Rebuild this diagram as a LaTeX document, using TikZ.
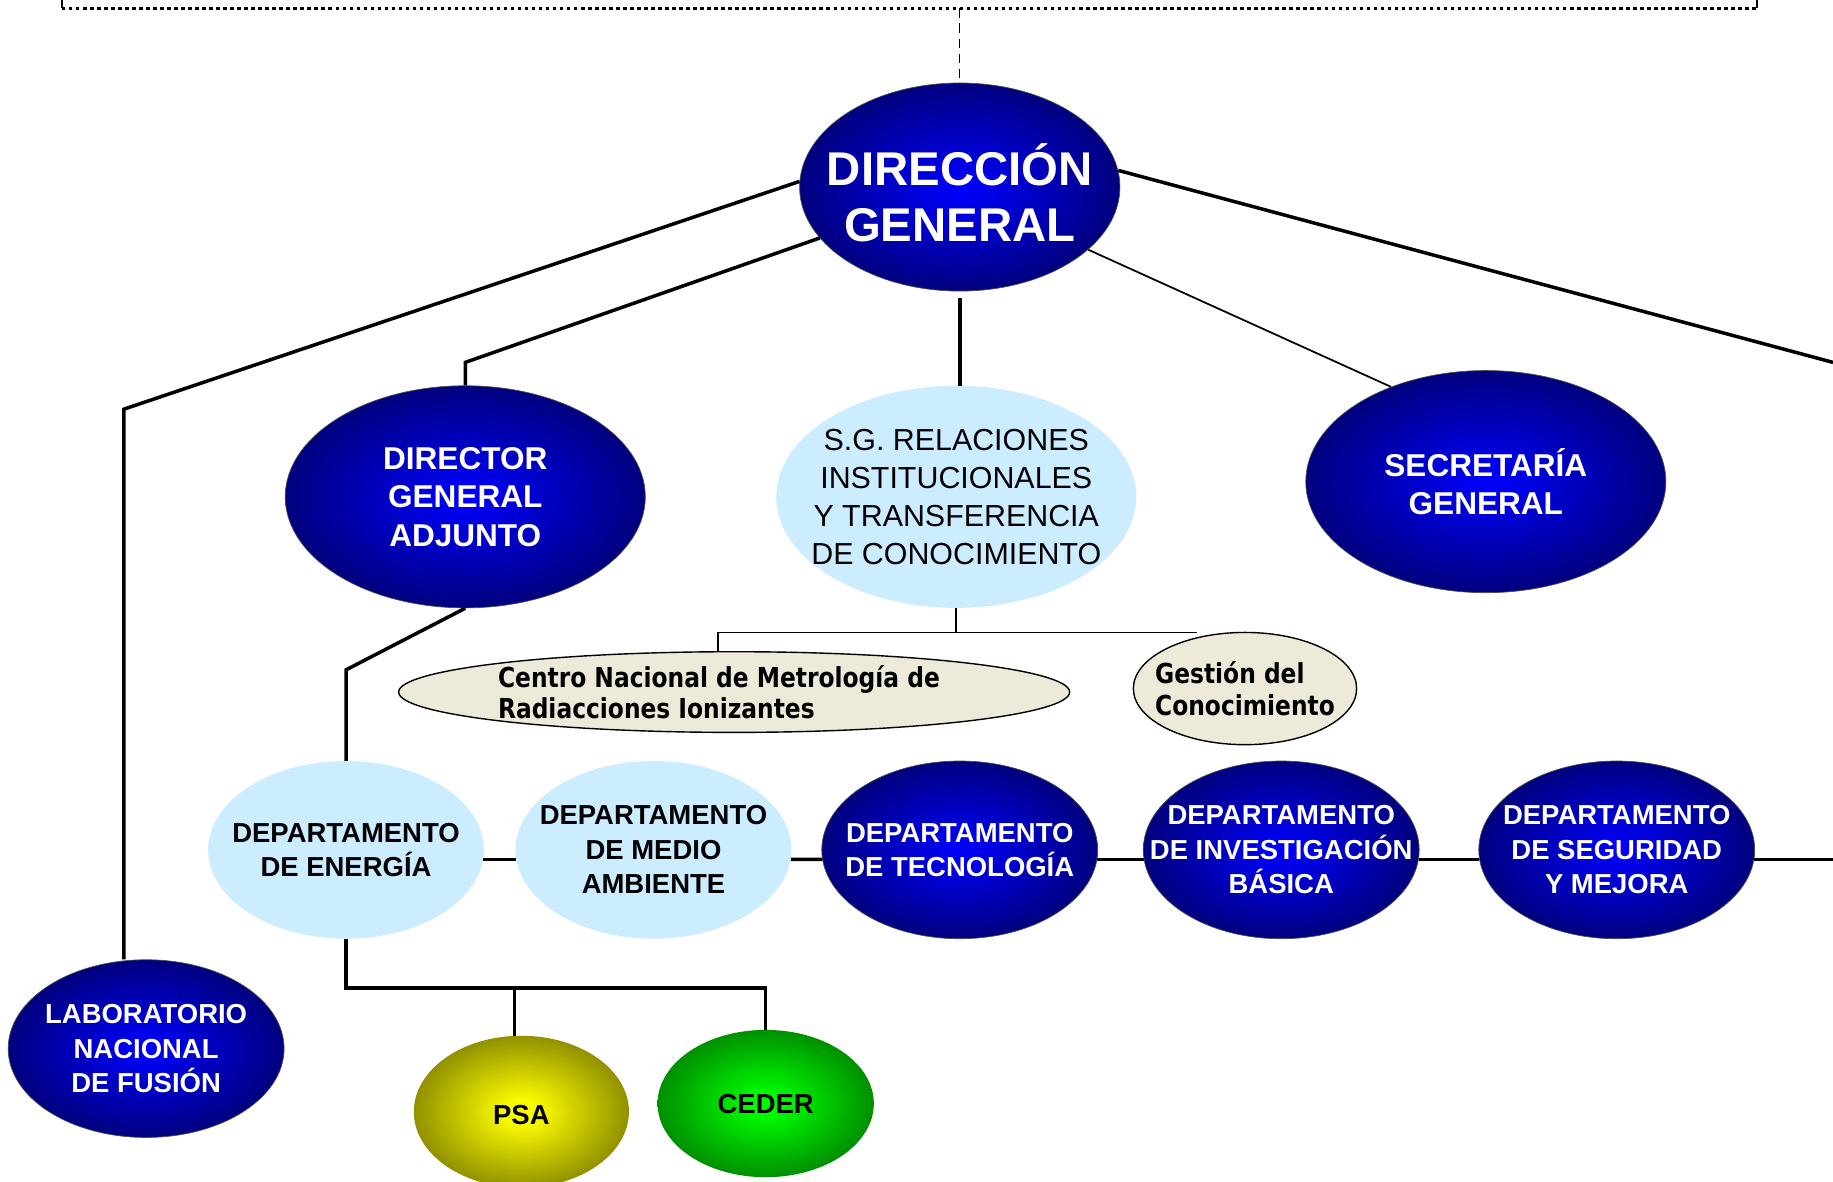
\documentclass[tikz,border=0pt]{standalone}
\usepackage{fontspec}
\setmainfont{Liberation Sans}
\newfontfamily\tahomalike{DejaVu Sans}[FakeStretch=0.85]
\usetikzlibrary{shapes.geometric}
\definecolor{OrgNavy}{RGB}{0,0,70}
\definecolor{OrgBlue}{RGB}{0,0,255}
\definecolor{OrgSky}{RGB}{204,236,255}
\definecolor{OrgBeige}{RGB}{238,234,218}
\definecolor{OrgOlive}{RGB}{90,90,0}
\definecolor{OrgYellow}{RGB}{250,250,0}
\definecolor{OrgForest}{RGB}{0,88,0}
\definecolor{OrgLime}{RGB}{0,250,0}
\pgfdeclareradialshading{navyglow}{\pgfpointorigin}{color(0bp)=(OrgBlue); color(36bp)=(OrgNavy); color(50bp)=(OrgNavy)}
\pgfdeclareradialshading{yellowglow}{\pgfpointorigin}{color(0bp)=(OrgYellow); color(4bp)=(OrgYellow); color(36bp)=(OrgOlive); color(50bp)=(OrgOlive)}
\pgfdeclareradialshading{greenglow}{\pgfpointorigin}{color(0bp)=(OrgLime); color(4bp)=(OrgLime); color(36bp)=(OrgForest); color(50bp)=(OrgForest)}

\begin{document}
\begin{tikzpicture}[x=1pt, y=-1pt,
  dark/.style={ellipse, shading=navyglow, draw=black!70, line width=0.6pt, inner sep=0pt},
  light/.style={ellipse, fill=OrgSky, inner sep=0pt},
  unit/.style={ellipse, draw=black, line width=1.2pt, fill=OrgBeige, inner sep=0pt},
  dept/.style={minimum width=236pt, minimum height=152pt},
  big/.style={minimum width=308pt, minimum height=190pt},
  % texts set on top of the shapes
  wt/.style={text=white, align=center},
  bt/.style={text=black, align=center},
  hugetxt/.style={font=\bfseries\fontsize{40.5}{48}\selectfont},
  bigtxt/.style={font=\bfseries\fontsize{27}{33}\selectfont},
  sgtxt/.style={font=\fontsize{26}{32.5}\selectfont},
  depttxt/.style={font=\bfseries\fontsize{23.5}{29.5}\selectfont},
  unittxt/.style={align=left, font=\tahomalike\bfseries\fontsize{23.5}{27}\selectfont},
  ln/.style={line width=3pt},
  thin/.style={line width=1.5pt}]
\useasboundingbox (0,0) rectangle (1568,1011);

% top level
\node[dark, minimum width=274pt, minimum height=178pt,
      label={[wt, hugetxt, yshift=-5pt]center:{DIRECCIÓN\\GENERAL}}] (dg) at (821,160) {};
\node[dark, big, label={[wt, bigtxt]center:{DIRECTOR\\GENERAL\\ADJUNTO}}] (dga) at (398,425) {};
\node[light, big, label={[bt, sgtxt]center:{S.G. RELACIONES\\INSTITUCIONALES\\Y TRANSFERENCIA\\DE CONOCIMIENTO}}] (sgr) at (818,425) {};
\node[dark, big, label={[wt, bigtxt]center:{SECRETARÍA\\GENERAL}}] (sec) at (1271,412) {};

% units under S.G.
\node[unit, minimum width=574pt, minimum height=69pt,
      label={[unittxt, xshift=-13pt]center:{Centro Nacional de Metrología de\\Radiacciones Ionizantes}}] (cnm) at (628,592) {};
\node[unit, minimum width=191pt, minimum height=96pt,
      label={[unittxt]center:{Gestión del\\Conocimiento}}] (gc) at (1065,589) {};

% departments
\node[light, dept, label={[bt, depttxt]center:{DEPARTAMENTO\\DE ENERGÍA}}] (ener) at (296,727) {};
\node[light, dept, label={[bt, depttxt]center:{DEPARTAMENTO\\DE MEDIO\\AMBIENTE}}] (ma) at (559,727) {};
\node[dark, dept, label={[wt, depttxt]center:{DEPARTAMENTO\\DE TECNOLOGÍA}}] (tec) at (821,727) {};
\node[dark, dept, label={[wt, depttxt]center:{DEPARTAMENTO\\DE INVESTIGACIÓN\\BÁSICA}}] (inv) at (1096,727) {};
\node[dark, dept, label={[wt, depttxt]center:{DEPARTAMENTO\\DE SEGURIDAD\\Y MEJORA}}] (seg) at (1383,727) {};
\node[dark, dept, label={[wt, depttxt]center:{LABORATORIO\\NACIONAL\\DE FUSIÓN}}] (lnf) at (125,897) {};

% centres
\node[ellipse, shading=yellowglow, inner sep=0pt, minimum width=184pt, minimum height=130pt,
      label={[bt, depttxt, yshift=-3pt]center:PSA}] (psa) at (446,951) {};
\node[ellipse, shading=greenglow, inner sep=0pt, minimum width=185pt, minimum height=126pt,
      label={[bt, depttxt]center:CEDER}] (ceder) at (655,944) {};

% bend points and free ends
\coordinate (topL) at (53,7);
\coordinate (topR) at (1503,7);
\coordinate (topM) at (821,7);
\coordinate (lnfbend) at (106,350);
\coordinate (dgabend) at (398,310);
\coordinate (edgeR) at (1568,310);
\coordinate (enerbend) at (296,573);
\coordinate (sgrbus) at (818,541);
\coordinate (cnmbus) at (614,541);
\coordinate (gcbus) at (1024,541);
\coordinate (enerbus) at (296,845);
\coordinate (psabus) at (440,845);
\coordinate (cederbus) at (655,845);
\coordinate (chainR) at (1568,733);

% connectors
\draw[line width=2.5pt, dash pattern=on 3pt off 3pt] (topL) -- (topR);
\draw[line width=1pt] (topL) -- ++(0,-7);
\draw[line width=1.5pt] (topR) -- ++(0,-7);
\draw[line width=1pt, dash pattern=on 8pt off 5pt] (topM) -- (dg.north);
\draw[ln] (dg.178) -- (lnfbend) -- (lnfbend |- lnf.north);
\draw[ln] (dg.200) -- (dgabend) -- (dga.north);
\draw[ln] ([yshift=-6pt]dg.south) -- (dg.south |- sgr.north);
\draw[thin] (dg.-26) -- (sec.135);
\draw[ln] (dg.6) -- (edgeR);
\draw[ln] (dga.south) -- (enerbend) -- (ener.north);
\draw[thin] (sgr.south) -- (sgrbus);
\draw[thin] (cnmbus) -- (gcbus);
\draw[thin] (cnmbus) -- (cnmbus |- cnm.north);
\draw[ln] (ener.-4) -- (ma.184);
\draw[ln] (ma.-4) -- (tec.184);
\draw[ln] (tec.-4) -- (inv.184);
\draw[ln] (inv.-4) -- (seg.184);
\draw[ln] (seg.-4) -- (seg.-4 -| chainR);
\draw[ln] (ener.south) -- (enerbus) -- (cederbus) -- (ceder.north);
\draw[ln] (psabus) -- (psabus |- psa.north);
\end{tikzpicture}
\end{document}
